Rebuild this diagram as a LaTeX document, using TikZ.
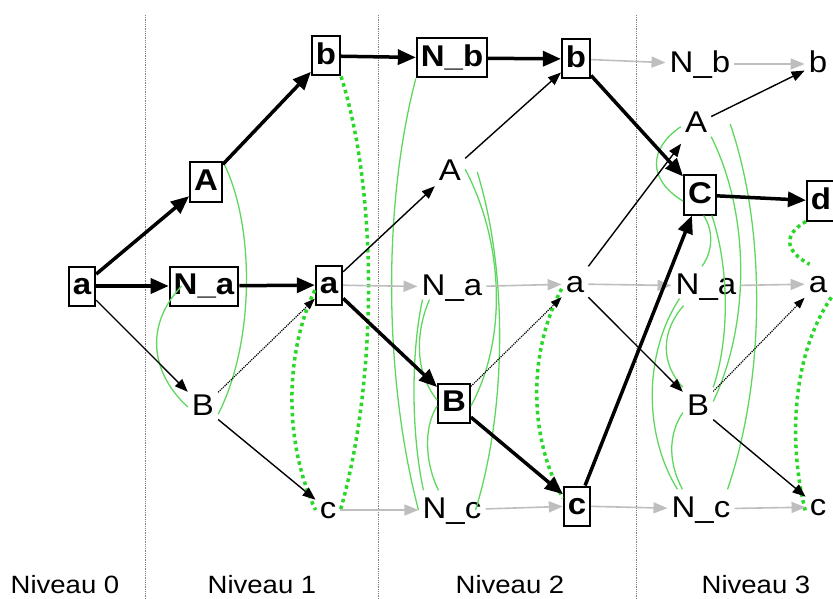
\documentclass[tikz,border=0pt]{standalone}
\usepackage{fontspec}
\setmainfont{Liberation Sans}[FakeStretch=1.1]
\usepackage{xcolor}
\usepackage{tikz}
\usetikzlibrary{arrows.meta}

\definecolor{mutexgreen}{RGB}{95,215,95}
\definecolor{factgreen}{RGB}{40,215,40}
\definecolor{noopgray}{RGB}{190,190,190}

\begin{document}
\begin{tikzpicture}[
    x=1pt, y=-1pt,
    lit/.style={inner xsep=4pt, inner ysep=3pt, text height=22pt, text depth=5pt, minimum height=39pt, font=\fontsize{30}{36}\selectfont},
    chosen/.style={lit, draw, line width=2pt, minimum width=26pt, font=\fontsize{30}{36}\selectfont\bfseries},
    plan/.style={-{Triangle[length=18pt,width=15pt]}, line width=3.5pt},
    arrow/.style={-{Triangle[length=13pt,width=10pt]}, line width=1.4pt},
    del/.style={-{Triangle[length=11pt,width=8pt]}, line width=1.2pt, densely dotted},
    noop/.style={-{Triangle[length=14pt,width=11pt]}, line width=1.6pt, noopgray},
    mutex/.style={mutexgreen, line width=1.3pt},
    factmutex/.style={factgreen, line width=3.5pt, dash pattern=on 3.5pt off 3.5pt},
    level/.style={font=\fontsize{25}{30}\selectfont},
    sep/.style={densely dotted, gray, line width=0.8pt}
]
\useasboundingbox (0,0) rectangle (833,599);

% Separateurs
\draw[sep] (145,15) -- (145,599);
\draw[sep] (378,15) -- (378,599);
\draw[sep] (636,15) -- (636,599);

% Niveau 0
\node[chosen] (a0) at (82,286) {a};

% Niveau 1
\node[chosen] (A1) at (206,182) {A};
\node[chosen] (Na1) at (204,286) {N\_a};
\node[lit] (B1) at (203,407) {B};
\node[chosen] (b1) at (326,56) {b};
\node[chosen] (a1) at (329,285) {a};
\node[lit] (c1) at (328,510) {c};

% Niveau 2
\node[chosen] (Nb2) at (452,58) {N\_b};
\node[lit] (A2) at (450,172) {A};
\node[lit] (Na2) at (452,287) {N\_a};
\node[chosen] (B2) at (454,403) {B};
\node[lit] (Nc2) at (452,510) {N\_c};
\node[chosen] (b2) at (576,59) {b};
\node[lit] (a2) at (575,284) {a};
\node[chosen] (c2) at (577,506) {c};

% Niveau 3
\node[lit] (Nb3) at (700,64) {N\_b};
\node[lit] (A3) at (696,124) {A};
\node[chosen] (C3) at (700,195) {C};
\node[lit] (Na3) at (706,286) {N\_a};
\node[lit] (B3) at (698,407) {B};
\node[lit] (Nc3) at (701,509) {N\_c};
\node[lit] (b3) at (818,64) {b};
\node[chosen] (d3) at (821,201) {d};
\node[lit] (a3) at (818,284) {a};
\node[lit] (c3) at (818,507) {c};

% Legende
\node[level] (niv0) at (65,585) {Niveau 0};
\node[level] (niv1) at (262,585) {Niveau 1};
\node[level] (niv2) at (510,585) {Niveau 2};
\node[level] (niv3) at (756,585) {Niveau 3};

% Mutex niveau 1
\draw[mutex] (A1.north east) .. controls +(33,65) and +(36,-70) .. (B1.-25);
\draw[mutex] ([xshift=13pt]Na1.west) .. controls +(-34,35) and +(-41,-38) .. (B1.west);
\draw[factmutex] (b1.south east) .. controls +(38,120) and +(36,-125) .. (c1.east);
\draw[factmutex] (a1.200) .. controls +(-31,65) and +(-31,-65) .. (c1.west);

% Mutex niveau 2
\draw[mutex] (Nb2.south west) .. controls +(-34,130) and +(-34,-130) .. (Nc2.west);
\draw[mutex] (A2.10) .. controls +(37,70) and +(38,-70) .. (B2.-10);
\draw[mutex] ([xshift=12pt]A2.east) .. controls +(31,100) and +(31,-100) .. ([xshift=-10pt]Nc2.east);
\draw[mutex] ([xshift=5pt]Na2.200) .. controls +(-12,55) and +(-12,-55) .. ([xshift=5pt]Nc2.north west);
\draw[mutex] ([xshift=12pt]Na2.200) .. controls +(-13,30) and +(-24,-30) .. (B2.170);
\draw[mutex] (B2.190) .. controls +(-15,24) and +(-12,-24) .. ([xshift=20pt]Nc2.north west);
\draw[factmutex] (a2.200) .. controls +(-33,62) and +(-35,-62) .. (c2.150);

% Mutex niveau 3
\draw[mutex] (A3.190) .. controls +(-32,22) and +(-36,-22) .. (C3.200);
\draw[mutex] (C3.-80) .. controls +(10,15) and +(11,-15) .. ([xshift=-4pt]Na3.north);
\draw[mutex] (C3.-60) .. controls +(17,50) and +(17,-50) .. (B3.north east);
\draw[mutex] (A3.-40) .. controls +(39,78) and +(37,-78) .. (B3.20);
\draw[mutex] ([xshift=19pt]A3.east) .. controls +(37,108) and +(37,-108) .. ([xshift=-7pt]Nc3.north east);
\draw[mutex] ([xshift=8pt]Na3.200) .. controls +(-36,55) and +(-34,-55) .. ([xshift=10pt]Nc3.north west);
\draw[mutex] ([xshift=12pt]Na3.south west) .. controls +(-22,25) and +(-23,-25) .. (B3.north west);
\draw[mutex] (B3.200) .. controls +(-16,24) and +(-13,-24) .. ([xshift=15pt]Nc3.north west);
\draw[factmutex] (d3.south west) .. controls +(-23,13) and +(-25,-13) .. ([xshift=5pt]a3.north west);
\draw[factmutex] (a3.-45) .. controls +(-42,62) and +(-16,-62) .. (c3.200);

% Niveau 0 -> 1
\draw[plan] (a0) -- (A1);
\draw[plan] (a0) -- (Na1);
\draw[arrow] (a0) -- (B1);

% Niveau 1
\draw[plan] (A1) -- (b1);
\draw[plan] (Na1) -- (a1);
\draw[del] (B1) -- (a1);
\draw[arrow] (B1) -- (c1);

% Niveau 1 -> 2
\draw[plan] (b1) -- (Nb2);
\draw[arrow] (a1) -- (A2);
\draw[noop] (a1) -- (Na2);
\draw[plan] (a1) -- (B2);
\draw[noop] (c1) -- (Nc2);

% Niveau 2
\draw[plan] (Nb2) -- (b2);
\draw[arrow] (A2) -- (b2);
\draw[noop] (Na2) -- (a2);
\draw[del] (B2) -- (a2);
\draw[plan] (B2) -- (c2);
\draw[noop] (Nc2) -- (c2);

% Niveau 2 -> 3
\draw[noop] (b2) -- (Nb3);
\draw[plan] (b2) -- (C3);
\draw[arrow] (a2) -- (A3);
\draw[noop] (a2) -- (Na3);
\draw[arrow] (a2) -- (B3);
\draw[plan] (c2) -- (C3);
\draw[noop] (c2) -- (Nc3);

% Niveau 3
\draw[noop] (Nb3) -- (b3);
\draw[arrow] (A3) -- (b3);
\draw[plan] (C3) -- (d3);
\draw[noop] (Na3) -- (a3);
\draw[del] (B3) -- (a3);
\draw[arrow] (B3) -- (c3);
\draw[noop] (Nc3) -- (c3);

\end{tikzpicture}
\end{document}
